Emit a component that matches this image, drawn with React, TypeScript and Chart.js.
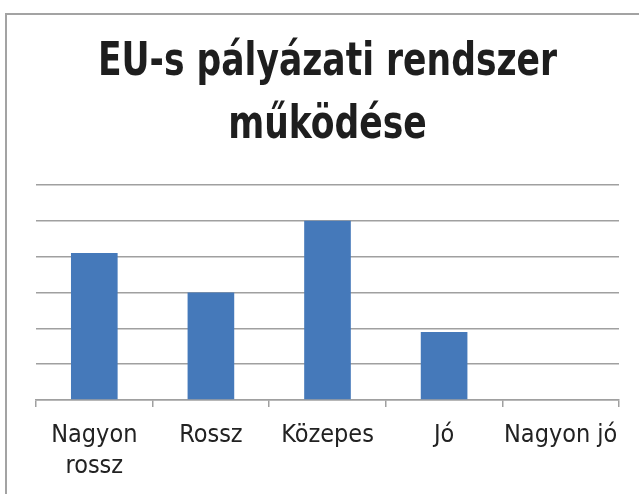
import React, { useEffect, useRef } from "react";
import { Chart, registerables } from "chart.js";

Chart.register(...registerables);

const titleLines = ["EU-s pályázati rendszer", "működése"];
const categories: (string | string[])[] = [["Nagyon", "rossz"], "Rossz", "Közepes", "Jó", "Nagyon jó"];
const values = [4.1, 3, 5, 1.9, 0];
const yMin = 0;
const yMax = 6;
const yStep = 1;

const FONT = "'DejaVu Sans Condensed', 'DejaVu Sans', sans-serif";
const TITLE_SX = 0.835;

const condenseTitle = {
  id: "condenseTitle",
  beforeDraw(chart: any) {
    const tb = chart.titleBlock;
    if (!tb || tb.__wrapped) return;
    const orig = tb.draw.bind(tb);
    tb.draw = (...args: any[]) => {
      const ctx = chart.ctx;
      const cx = (tb.left + tb.right) / 2;
      ctx.save();
      ctx.translate(cx, 0);
      ctx.scale(TITLE_SX, 1);
      ctx.translate(-cx, 0);
      orig(...args);
      ctx.restore();
    };
    tb.__wrapped = true;
  },
};

export default function App() {
  const ref = useRef<HTMLCanvasElement | null>(null);
  useEffect(() => {
    if (!ref.current) return;
    const chart = new Chart(ref.current, {
      type: "bar",
      data: {
        labels: categories,
        datasets: [
          {
            data: values,
            backgroundColor: "#4579BA",
            borderWidth: 0,
            categoryPercentage: 1,
            barPercentage: 0.4,
          },
        ],
      },
      plugins: [condenseTitle],
      options: {
        animation: false,
        responsive: false,
        devicePixelRatio: 1,
        layout: { padding: { left: 36, right: 20, top: 0, bottom: 0 } },
        plugins: {
          legend: { display: false },
          tooltip: { enabled: false },
          title: {
            display: true,
            text: titleLines,
            color: "#1e1e1e",
            font: { family: FONT, size: 46, weight: "bold", lineHeight: 1.357 },
            padding: { top: 32.2, bottom: 28 },
          },
        },
        scales: {
          x: {
            grid: {
              display: true,
              drawOnChartArea: false,
              drawTicks: true,
              tickLength: 7,
              color: "#a0a0a0",
              lineWidth: 1.5,
              offset: true,
            },
            border: { display: true, color: "#a0a0a0", width: 1.5 },
            ticks: {
              color: "#222222",
              font: { family: FONT, size: 25, lineHeight: 1.24 },
              padding: 12.5,
              maxRotation: 0,
              minRotation: 0,
              autoSkip: false,
            },
          },
          y: {
            min: yMin,
            max: yMax,
            ticks: { display: false, stepSize: yStep },
            grid: { color: "#a0a0a0", lineWidth: 1.5, drawTicks: false },
            border: { display: false },
          },
        },
      },
    });
    return () => chart.destroy();
  }, []);
  return (
    <div style={{ position: "fixed", left: 0, top: 0, width: 639, height: 494, background: "#ffffff", overflow: "hidden" }}>
      <div
        style={{
          position: "absolute",
          left: 5,
          top: 13,
          width: 700,
          height: 600,
          borderLeft: "2px solid #a3a3a3",
          borderTop: "2px solid #a3a3a3",
        }}
      />
      <canvas ref={ref} width={639} height={494} style={{ position: "absolute", left: 0, top: 0, width: 639, height: 494 }} />
    </div>
  );
}
